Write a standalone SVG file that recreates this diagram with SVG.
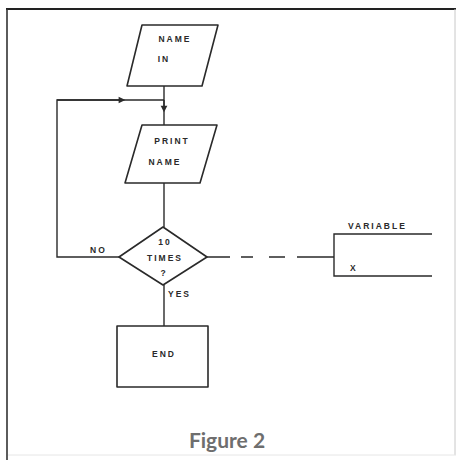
<svg xmlns="http://www.w3.org/2000/svg" width="456" height="460" viewBox="0 0 456 460">
<style>
.s{fill:#fff;stroke:#2a2a2a;stroke-width:1.6;stroke-linejoin:round}
.c{fill:none;stroke:#2a2a2a;stroke-width:1.4}
.t{font-family:"Liberation Sans",Arial,sans-serif;font-size:8.5px;font-weight:bold;letter-spacing:2px;fill:#2a2a2a;text-anchor:middle}
.l{font-family:"Liberation Sans",Arial,sans-serif;font-size:8.5px;font-weight:bold;letter-spacing:2px;fill:#2a2a2a}
</style>
<defs>
<marker id="ar" viewBox="0 0 10 10" refX="5" refY="5" markerWidth="6" markerHeight="6" orient="auto"><path d="M1,1 L9,5 L1,9 Z" fill="#2a2a2a"/></marker>
</defs>
<rect width="456" height="460" fill="#fff"/>
<g id="frame">
<path d="M6,9 H456" stroke="#222" stroke-width="2" fill="none"/>
<path d="M7,9 V460" stroke="#333" stroke-width="1.6" fill="none"/>
<path d="M455,9 V455" stroke="#c8c8c8" stroke-width="1" fill="none"/>
<path d="M8,455 H456" stroke="#e6e6e6" stroke-width="1" fill="none"/>
</g>
<g id="connectors">
<path class="c" d="M164,86 V125"/>
<path class="c" d="M164,183 V227"/>
<path class="c" d="M119,257 H57 V100 H164"/>
<path class="c" d="M57,100 H122" marker-end="url(#ar)"/>
<path class="c" d="M164,100 V109" marker-end="url(#ar)"/>
<path class="c" d="M164,285 V326"/>
<path class="c" d="M207,257 H230 M241,257 H253 M269,257 H285 M297,257 H334"/>
</g>
<g id="name-in">
<path class="s" d="M142,25 H218 L202,86 H127 Z"/>
<text class="t" x="175" y="42">NAME</text>
<text class="t" x="164" y="62">IN</text>
</g>
<g id="print-name">
<path class="s" d="M142,125 H217 L200,183 H125 Z"/>
<text class="t" x="172" y="144">PRINT</text>
<text class="t" x="165" y="165">NAME</text>
</g>
<g id="decision">
<path class="s" d="M163,227 L207,257 L163,285 L119,257 Z"/>
<text class="t" x="165" y="245">10</text>
<text class="t" x="165" y="261">TIMES</text>
<text class="t" x="164" y="276">?</text>
<text class="l" x="90" y="253">NO</text>
<text class="l" x="168" y="297">YES</text>
</g>
<g id="end">
<rect class="s" x="117" y="326" width="91" height="61"/>
<text class="t" x="164" y="357">END</text>
</g>
<g id="variable">
<path class="c" d="M432,234 H334 V276 H432"/>
<text class="l" x="348" y="229" letter-spacing="2.6">VARIABLE</text>
<text class="l" x="350" y="271">X</text>
</g>
<text x="227" y="448" font-family="Lato,'Liberation Sans',sans-serif" font-weight="bold" font-size="21" fill="#6e6e6e" text-anchor="middle">Figure 2</text>
</svg>
